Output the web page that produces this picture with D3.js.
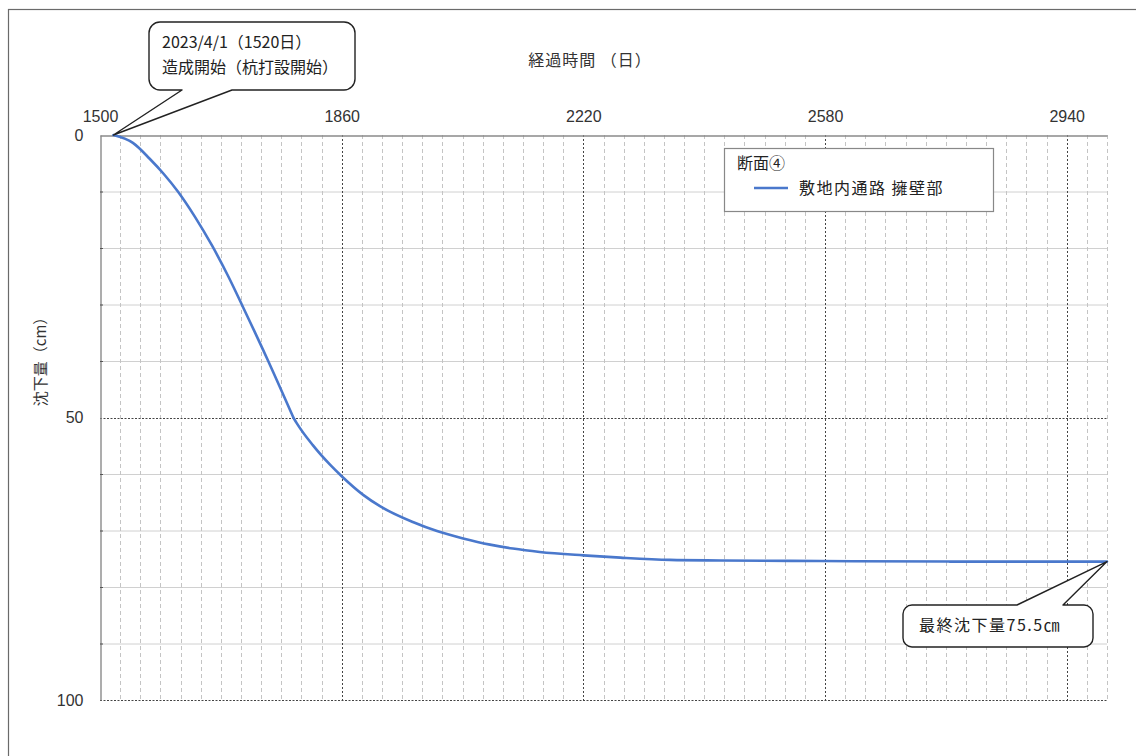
<!DOCTYPE html>
<html>
<head>
<meta charset="utf-8">
<script src="https://cdn.jsdelivr.net/npm/d3@7"></script>
<style>
  body { margin: 0; background: #fff; }
  svg { display: block; font-family: "Noto Sans CJK JP", "Noto Sans", sans-serif; }
</style>
</head>
<body>
<svg id="chart" width="1136" height="756"></svg>
<script>
// Settlement record: elapsed days vs. settlement (cm)
const elapsedDays = [1520, 1549, 1574, 1595, 1616, 1641, 1667, 1691, 1714, 1749, 1788,
                     1793, 1817, 1843, 1860, 1892, 1917, 1966, 2002, 2041, 2081, 2115,
                     2155, 2220, 2275, 2349, 2424, 2573, 2766, 3000];
const settlement  = [0, 1.4, 4.2, 6.9, 10.0, 14.4, 19.6, 25.0, 30.7, 39.6, 50.0,
                     51.0, 54.9, 58.4, 60.4, 63.7, 65.7, 68.5, 70.1, 71.4, 72.5, 73.2,
                     73.8, 74.4, 74.8, 75.2, 75.3, 75.4, 75.5, 75.5];
// day on which the embankment loading ends (slope break in the curve)
const loadingEndDay = 1788;

const xDomain = [1500, 3000];
const yDomain = [0, 100];
const xTickValues = [1500, 1860, 2220, 2580, 2940];
const yTickValues = [0, 50, 100];
const xMinorStep = 30;
const yMinorStep = 10;

const xTitle = "経過時間 （日）";
const yTitle = "沈下量（cm）";
const legendTitle = "断面④";
const seriesName = "敷地内通路 擁壁部";
const startDay = 1520;
const startValue = 0;
const startNote = ["2023/4/1（1520日）", "造成開始（杭打設開始）"];
const finalDay = 3000;
const finalValue = 75.5;
const finalNote = `最終沈下量${finalValue}㎝`;

const svg = d3.select("#chart");
const plot = { left: 100, right: 1107, top: 135, bottom: 700 };

const x = d3.scaleLinear().domain(xDomain).range([plot.left, plot.right]);
const y = d3.scaleLinear().domain(yDomain).range([plot.top, plot.bottom]);

// outer frame
svg.append("rect")
  .attr("x", 8.5).attr("y", 9.5).attr("width", 1140).attr("height", 760)
  .attr("fill", "none").attr("stroke", "#6a6a6a").attr("stroke-width", 1.2);

const grid = svg.append("g");

// horizontal minor grid (solid)
const yMinor = d3.range(yDomain[0] + yMinorStep, yDomain[1], yMinorStep).filter(v => v % 50 !== 0);
grid.selectAll(".hminor").data(yMinor).join("line")
  .attr("x1", plot.left).attr("x2", plot.right)
  .attr("y1", d => y(d) + 0.5).attr("y2", d => y(d) + 0.5)
  .attr("stroke", "#d0d0d0").attr("stroke-width", 1);

// vertical minor grid (dashed)
const xMinor = d3.range(xDomain[0] + xMinorStep, xDomain[1] + 1, xMinorStep)
  .filter(v => !xTickValues.includes(v));
grid.selectAll(".vminor").data(xMinor).join("line")
  .attr("x1", d => Math.round(x(d)) + 0.5).attr("x2", d => Math.round(x(d)) + 0.5)
  .attr("y1", plot.top).attr("y2", plot.bottom)
  .attr("stroke", "#c4c4c4").attr("stroke-width", 1).attr("stroke-dasharray", "4,3");

// vertical major grid (dark dotted)
grid.selectAll(".vmajor").data(xTickValues.slice(1)).join("line")
  .attr("x1", d => Math.round(x(d)) + 0.5).attr("x2", d => Math.round(x(d)) + 0.5)
  .attr("y1", plot.top).attr("y2", plot.bottom)
  .attr("stroke", "#444").attr("stroke-width", 1).attr("stroke-dasharray", "2,2");

// horizontal major grid (dark dotted)
grid.selectAll(".hmajor").data(yTickValues.slice(1)).join("line")
  .attr("x1", plot.left).attr("x2", plot.right)
  .attr("y1", d => Math.round(y(d)) + 0.5).attr("y2", d => Math.round(y(d)) + 0.5)
  .attr("stroke", "#444").attr("stroke-width", 1).attr("stroke-dasharray", "2,1.5");

// top axis with day labels
const xAxis = svg.append("g")
  .attr("transform", `translate(0,${plot.top + 0.5})`)
  .call(d3.axisTop(x).tickValues(xTickValues).tickSize(0).tickPadding(14).tickFormat(d3.format("d")));
xAxis.select(".domain").attr("stroke", "#8a8a8a").attr("stroke-width", 1.4);
xAxis.selectAll("text").attr("font-size", 16).attr("fill", "#333").attr("font-family", "inherit");

// left axis with settlement labels
const yAxis = svg.append("g")
  .attr("transform", `translate(${plot.left + 0.5},0)`)
  .call(d3.axisLeft(y).tickValues(yTickValues).tickSize(0).tickPadding(17).tickFormat(d3.format("d")));
yAxis.select(".domain").attr("stroke", "#8a8a8a").attr("stroke-width", 1.4);
yAxis.selectAll("text").attr("font-size", 16).attr("fill", "#333").attr("font-family", "inherit");

// small inward ticks on the left axis
svg.append("g").selectAll("line").data(yMinor).join("line")
  .attr("x1", plot.left).attr("x2", plot.left + 3)
  .attr("y1", d => y(d) + 0.5).attr("y2", d => y(d) + 0.5)
  .attr("stroke", "#555");

// axis titles
svg.append("text")
  .attr("x", 590).attr("y", 66).attr("text-anchor", "middle")
  .attr("font-size", 16).attr("fill", "#333").attr("letter-spacing", 1)
  .text(xTitle);
svg.append("text")
  .attr("transform", "translate(46,358) rotate(-90)")
  .attr("text-anchor", "middle").attr("font-size", 15).attr("fill", "#333")
  .text(yTitle);

// settlement curve: smooth during loading and during consolidation, with a break between
const points = elapsedDays.map((d, i) => [d, settlement[i]]);
const loadingPart = points.filter(p => p[0] <= loadingEndDay);
const restPart = points.filter(p => p[0] >= loadingEndDay);
const line = d3.line().x(d => x(d[0])).y(d => y(d[1])).curve(d3.curveMonotoneX);
svg.append("path")
  .attr("fill", "none").attr("stroke", "#4a78cc").attr("stroke-width", 2.6)
  .attr("stroke-linejoin", "round").attr("stroke-linecap", "round")
  .attr("d", line(loadingPart) + line(restPart).replace(/^M/, "L"));

// legend
const legend = svg.append("g");
legend.append("rect")
  .attr("x", 724.5).attr("y", 148.5).attr("width", 269).attr("height", 63)
  .attr("fill", "#fff").attr("stroke", "#888").attr("stroke-width", 1.2);
legend.append("text").attr("x", 737).attr("y", 169)
  .attr("font-size", 16).attr("fill", "#222").text(legendTitle);
legend.append("line").attr("x1", 754).attr("x2", 788).attr("y1", 188).attr("y2", 188)
  .attr("stroke", "#4a78cc").attr("stroke-width", 2.6);
legend.append("text").attr("x", 799).attr("y", 194)
  .attr("font-size", 16).attr("letter-spacing", 1.5).attr("fill", "#222").text(seriesName);

// callout shape: rounded box with a pointer to the tip
function callout(box, r, base, tip, side) {
  const { x0, y0, x1, y1 } = box;
  const p = d3.path();
  p.moveTo(x0 + r, y0);
  if (side === "top") { p.lineTo(base[0], y0); p.lineTo(tip[0], tip[1]); p.lineTo(base[1], y0); }
  p.lineTo(x1 - r, y0);
  p.arcTo(x1, y0, x1, y0 + r, r);
  p.lineTo(x1, y1 - r);
  p.arcTo(x1, y1, x1 - r, y1, r);
  if (side === "bottom") { p.lineTo(base[1], y1); p.lineTo(tip[0], tip[1]); p.lineTo(base[0], y1); }
  p.lineTo(x0 + r, y1);
  p.arcTo(x0, y1, x0, y1 - r, r);
  p.lineTo(x0, y0 + r);
  p.arcTo(x0, y0, x0 + r, y0, r);
  p.closePath();
  return p.toString();
}

// start-of-works callout
svg.append("path")
  .attr("d", callout({ x0: 149, y0: 22, x1: 355, y1: 90 }, 11, [182, 232], [x(startDay), y(startValue)], "bottom"))
  .attr("fill", "#fff").attr("stroke", "#222").attr("stroke-width", 1.4).attr("stroke-linejoin", "round");
svg.append("g").selectAll("text").data(startNote).join("text")
  .attr("x", 162).attr("y", (d, i) => 48 + i * 25)
  .attr("font-size", 16).attr("fill", "#222").text(d => d);

// final settlement callout
svg.append("path")
  .attr("d", callout({ x0: 903, y0: 605, x1: 1093, y1: 647 }, 9, [1017, 1063], [x(finalDay), y(finalValue)], "top"))
  .attr("fill", "#fff").attr("stroke", "#222").attr("stroke-width", 1.4).attr("stroke-linejoin", "round");
svg.append("text").attr("x", 919).attr("y", 631)
  .attr("font-size", 16).attr("letter-spacing", 1.5).attr("fill", "#222").text(finalNote);
</script>
</body>
</html>
